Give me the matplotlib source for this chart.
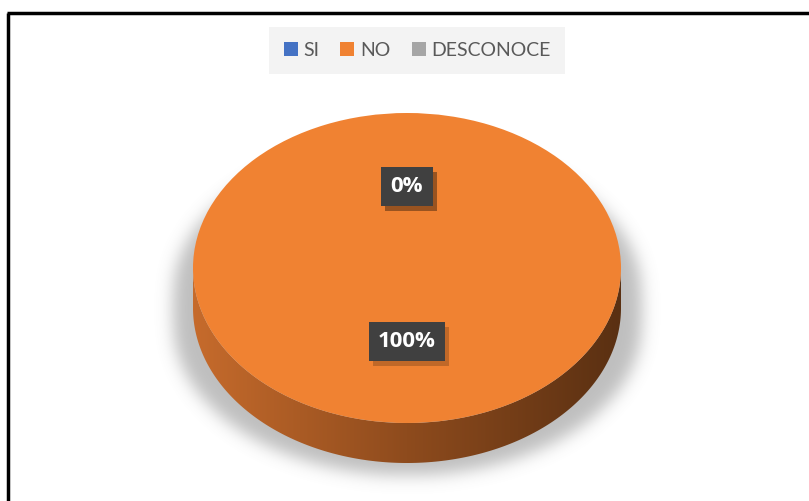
import matplotlib
matplotlib.use("Agg")
import matplotlib.pyplot as plt
import numpy as np
from matplotlib.patches import Patch, PathPatch, Rectangle
from matplotlib.path import Path
from matplotlib.transforms import Affine2D

# data
categories = ["SI", "NO", "DESCONOCE"]
values = [0, 100, 0]
colors = ["#4472C4", "#F08232", "#A5A5A5"]

W, H = 809, 501
fig = plt.figure(figsize=(W / 100, H / 100), dpi=100)
ax = fig.add_axes([0, 0, 1, 1])

# pie geometry in pixels (y grows downward)
cx, cy = 407, 268
a, b = 214, 155
depth = 40


def fix_axes():
    ax.set_xlim(0, W)
    ax.set_ylim(H, 0)
    ax.set_aspect("auto")
    ax.axis("off")


fix_axes()

# soft shadow under the cylinder
yy, xx = np.mgrid[0:H, 0:W].astype(float)
sa, sb, c0, c1 = 234, 150, 292, 325
yc = np.clip(yy, c0, c1)
mask = (((xx - cx) / sa) ** 2 + ((yy - yc) / sb) ** 2 <= 1).astype(float)
sig = 8
k = np.exp(-0.5 * (np.arange(-3 * sig, 3 * sig + 1) / sig) ** 2)
k /= k.sum()
mask = np.apply_along_axis(lambda r: np.convolve(r, k, mode="same"), 1, mask)
mask = np.apply_along_axis(lambda c: np.convolve(c, k, mode="same"), 0, mask)
shadow = np.zeros((H, W, 4))
shadow[..., :3] = 0.5
shadow[..., 3] = mask * 0.5
ax.imshow(shadow, extent=(0, W, H, 0), zorder=1, interpolation="bilinear")

# side of the cylinder with a horizontal gradient
th = np.linspace(np.pi, 0, 200)
upper = np.column_stack([cx + a * np.cos(th), cy + b * np.sin(th)])
lower = np.column_stack([cx + a * np.cos(th[::-1]), cy + depth + b * np.sin(th[::-1])])
side_path = Path(np.vstack([upper, lower, upper[:1]]), closed=True)
side_patch = PathPatch(side_path, facecolor="none", edgecolor="none", transform=ax.transData)
ax.add_patch(side_patch)
stops_x = [0.0, 0.5, 1.0]
stops_c = np.array([[0xC6, 0x6B, 0x2C], [0x8E, 0x4B, 0x1D], [0x5A, 0x30, 0x12]]) / 255
gx = np.linspace(0, 1, 300)
grad = np.column_stack([np.interp(gx, stops_x, stops_c[:, i]) for i in range(3)])
grad = np.repeat(grad[None, :, :], 10, axis=0)
im = ax.imshow(grad, extent=(cx - a, cx + a, cy + b + depth, cy), zorder=2,
               interpolation="bilinear", aspect="auto")
im.set_clip_path(side_patch)

# top face
wedges, _ = ax.pie(values, colors=colors, startangle=90, counterclock=False,
                   radius=a, center=(cx, cy), wedgeprops=dict(linewidth=0))
squash = Affine2D().translate(-cx, -cy).scale(1, b / a).translate(cx, cy)
for w in wedges:
    w.set_transform(squash + ax.transData)
    w.set_zorder(3)
fix_axes()

# data labels, one per slice (the two empty slices sit on the same spot)
total = sum(values)
cum = 0
labels = []
for v in values:
    ang = np.deg2rad(90 - 360 * (cum + v / 2) / total)
    cum += v
    lx = cx + a * 0.5 * np.cos(ang)
    ly = cy - b * 0.5 * np.sin(ang) - 4
    t = ax.text(lx, ly, f"{v / total * 100:.0f}%", ha="center", va="center",
                fontsize=16, fontweight="bold", family="Open Sans", color="white", zorder=5,
                bbox=dict(boxstyle="square,pad=0.42", facecolor="#404040", edgecolor="none"))
    labels.append(t)

fig.canvas.draw()
inv = ax.transData.inverted()
for t in labels:
    ext = t.get_bbox_patch().get_window_extent()
    (x0, y0), (x1, y1) = inv.transform([[ext.x0 + 4, ext.y0 - 5], [ext.x1 + 4, ext.y1 - 5]])
    ax.add_patch(Rectangle((x0, y1), x1 - x0, y0 - y1, facecolor="black",
                           edgecolor="none", alpha=0.2, zorder=4))

# legend
handles = [Patch(facecolor=c, edgecolor="none") for c in colors]
leg = ax.legend(handles, categories, loc="center", bbox_to_anchor=(417 / W, 1 - 50.5 / H),
                bbox_transform=fig.transFigure, ncol=3, frameon=True, fancybox=False,
                facecolor="#F3F3F3", edgecolor="none", framealpha=1,
                prop=dict(family="Lato", size=14), labelcolor="#595959",
                handlelength=0.72, handleheight=0.72, handletextpad=0.28,
                columnspacing=1.1, borderpad=0.75, borderaxespad=0)
leg.set_zorder(6)

# outer frame (left and top edges)
ax.plot([8.5, 8.5], [13, H], color="black", lw=2.5, zorder=7, solid_capstyle="butt")
ax.plot([7.5, W], [13, 13], color="black", lw=2.5, zorder=7, solid_capstyle="butt")
fix_axes()

fig.savefig("out.png", dpi=100)
